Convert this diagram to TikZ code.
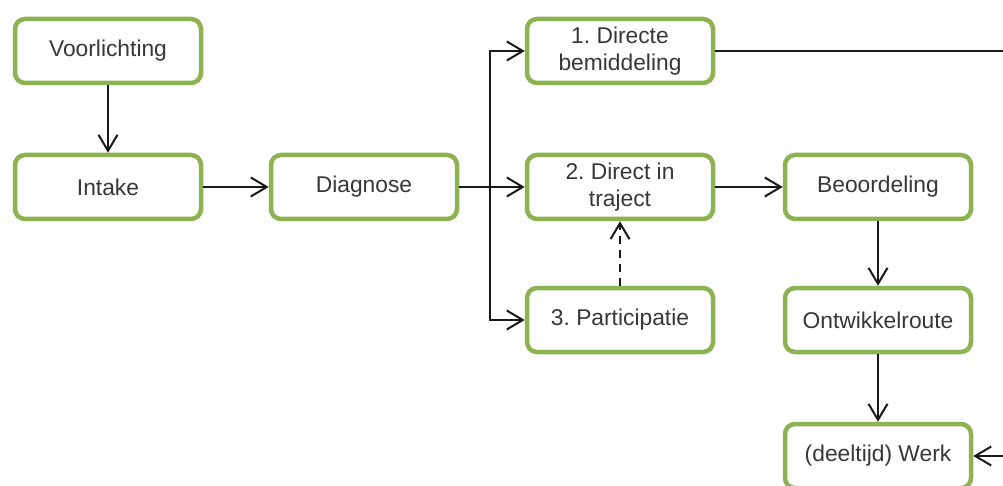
\documentclass[tikz,border=0pt]{standalone}
\usepackage{fontspec}
\setmainfont{Liberation Sans}
\usetikzlibrary{arrows.meta}
\definecolor{boxgreen}{RGB}{140,178,82}
\definecolor{txtgray}{RGB}{55,55,55}
\definecolor{linecol}{RGB}{25,25,25}
\frenchspacing
\begin{document}
\begin{tikzpicture}[x=1pt,y=-1pt,
  stepbox/.style={draw=boxgreen, line width=4.5pt, rounded corners=10pt, fill=white,
    minimum width=186pt, minimum height=64pt, align=center, text=txtgray,
    font=\fontsize{22.8pt}{27pt}\selectfont, inner sep=0pt},
  arr/.style={draw=linecol, line width=2pt, -{Straight Barb[length=16pt,width=19pt,line width=2pt]}}]
\useasboundingbox (0,0) rectangle (1003,486);
\clip (0,0) rectangle (1003,486);
\node[stepbox] (vl) at (108,51) {\raisebox{-2pt}{Voorlichting}};
\node[stepbox] (in) at (108,187) {\raisebox{-2pt}{Intake}};
\node[stepbox] (di) at (364,187) {\raisebox{-2pt}{Diagnose}};
\node[stepbox] (bem) at (620,51) {1. Directe\\bemiddeling};
\node[stepbox] (dit) at (620,187) {2. Direct in\\traject};
\node[stepbox] (par) at (620,320) {\raisebox{-2pt}{3. Participatie}};
\node[stepbox] (beo) at (878,187) {\raisebox{-2pt}{Beoordeling}};
\node[stepbox] (ont) at (878,320) {\raisebox{-2pt}{Ontwikkelroute}};
\node[stepbox] (werk) at (878,456) {\raisebox{-2pt}{(deeltijd) Werk}};
\coordinate (j) at (490,187);
\coordinate (r1) at (1030,51);
\coordinate (r2) at (1030,456);
\draw[arr] (vl) -- (in);
\draw[arr] (in) -- (di);
\draw[arr] (di) -- (dit);
\draw[arr] (j) |- (bem);
\draw[arr] (j) |- (par.west);
\draw[arr, dashed, dash pattern=on 8pt off 6pt] (par) -- (dit);
\draw[arr] (dit) -- (beo);
\draw[arr] (beo) -- (ont);
\draw[arr] (ont) -- (werk);
\draw[arr] (bem.east) -- (r1) -- (r2) -- (werk.east);
\end{tikzpicture}
\end{document}
